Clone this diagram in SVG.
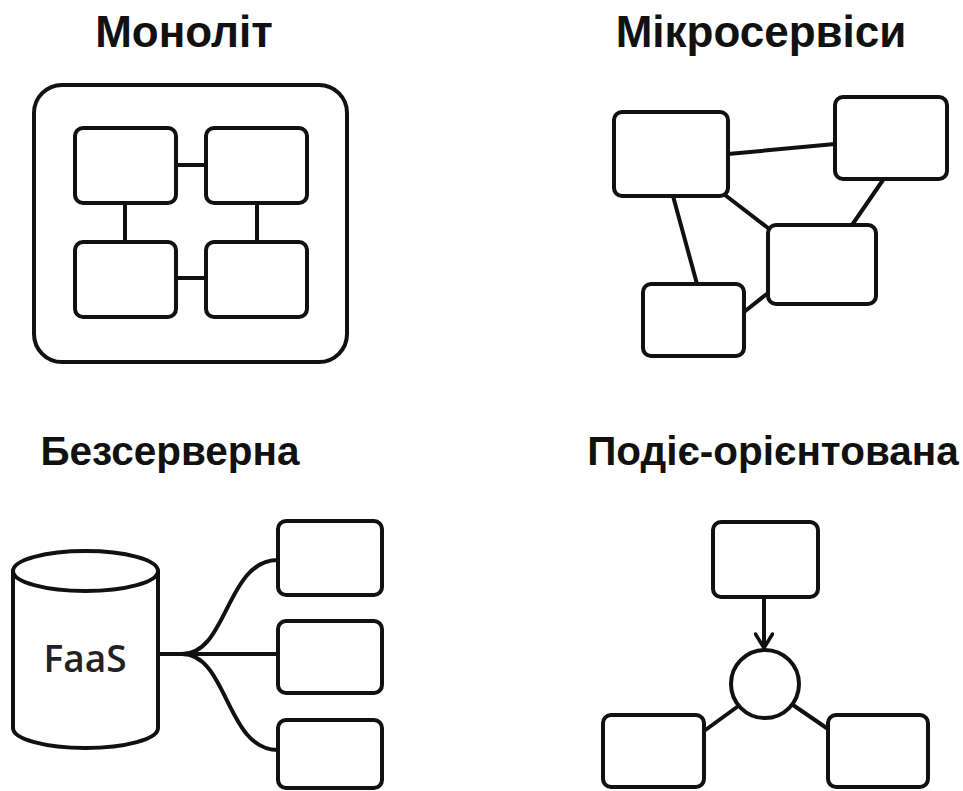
<svg xmlns="http://www.w3.org/2000/svg" width="963" height="791" viewBox="0 0 963 791">
<defs>
<style>
.title{font-family:"Liberation Sans",Arial,sans-serif;font-weight:bold;font-size:44px;fill:#111;text-anchor:middle}
.title2{font-size:40.5px}
.box{fill:#fff;stroke:#111;stroke-width:4}
.frame{fill:none;stroke:#111;stroke-width:4}
.ln{fill:none;stroke:#111;stroke-width:4;stroke-linecap:round}
.faas{font-family:"Open Sans","Noto Sans",sans-serif;font-weight:600;font-size:37px;fill:#222;text-anchor:middle}
</style>
<marker id="arr" markerWidth="18" markerHeight="20" refX="16" refY="10" orient="auto" markerUnits="userSpaceOnUse" viewBox="0 0 18 20">
<path d="M2 1.5 L16 10 L2 18.5" fill="none" stroke="#111" stroke-width="3.5" stroke-linecap="round"/>
</marker>
</defs>
<rect width="963" height="791" fill="#fff"/>

<text class="title" x="184" y="47">Моноліт</text>
<text class="title" x="761" y="47">Мікросервіси</text>
<text class="title title2" x="170" y="465">Безсерверна</text>
<text class="title title2" x="773" y="465">Подіє-орієнтована</text>

<g id="monolith">
<rect class="frame" x="34" y="85" width="313" height="277" rx="28"/>
</g>

<g id="connectors">
<line class="ln" x1="176" y1="165" x2="206" y2="165"/>
<line class="ln" x1="176" y1="278" x2="206" y2="278"/>
<line class="ln" x1="125" y1="203" x2="125" y2="242"/>
<line class="ln" x1="257" y1="203" x2="257" y2="242"/>

<line class="ln" x1="728" y1="154" x2="835" y2="144"/>
<line class="ln" x1="725" y1="195" x2="768" y2="228"/>
<line class="ln" x1="673" y1="196" x2="697" y2="284"/>
<line class="ln" x1="883" y1="180" x2="852" y2="225"/>
<line class="ln" x1="768" y1="293" x2="744" y2="312"/>

<path class="ln" d="M158 654 L278 654"/>
<path class="ln" d="M182 654 C228 654 226 560 278 560"/>
<path class="ln" d="M182 654 C228 654 226 750 278 750"/>

<line class="ln" x1="764" y1="597" x2="764" y2="648" marker-end="url(#arr)"/>
<line class="ln" x1="737" y1="707" x2="704" y2="731"/>
<line class="ln" x1="793" y1="705" x2="828" y2="729"/>
</g>

<g id="mono-a"><rect class="box" x="75" y="128" width="101" height="75" rx="8"/></g>
<g id="mono-b"><rect class="box" x="206" y="128" width="101" height="75" rx="8"/></g>
<g id="mono-c"><rect class="box" x="75" y="242" width="101" height="75" rx="8"/></g>
<g id="mono-d"><rect class="box" x="206" y="242" width="101" height="75" rx="8"/></g>

<g id="ms-a"><rect class="box" x="614" y="112" width="114" height="84" rx="8"/></g>
<g id="ms-b"><rect class="box" x="835" y="97" width="112" height="82" rx="8"/></g>
<g id="ms-c"><rect class="box" x="768" y="225" width="108" height="79" rx="8"/></g>
<g id="ms-d"><rect class="box" x="643" y="284" width="101" height="72" rx="8"/></g>

<g id="faas">
<path class="box" d="M13 571 L13 728 A72.5 20 0 0 0 158 728 L158 571"/>
<ellipse class="box" cx="85.5" cy="571" rx="72.5" ry="20"/>
<text class="faas" x="85" y="672">FaaS</text>
</g>
<g id="fn-1"><rect class="box" x="278" y="521" width="104" height="74" rx="8"/></g>
<g id="fn-2"><rect class="box" x="278" y="621" width="104" height="72" rx="8"/></g>
<g id="fn-3"><rect class="box" x="278" y="720" width="104" height="68" rx="8"/></g>

<g id="ev-src"><rect class="box" x="713" y="522" width="105" height="75" rx="8"/></g>
<g id="ev-bus"><circle class="box" cx="765" cy="684" r="34"/></g>
<g id="ev-l"><rect class="box" x="603" y="715" width="101" height="72" rx="8"/></g>
<g id="ev-r"><rect class="box" x="828" y="715" width="100" height="72" rx="8"/></g>
</svg>
